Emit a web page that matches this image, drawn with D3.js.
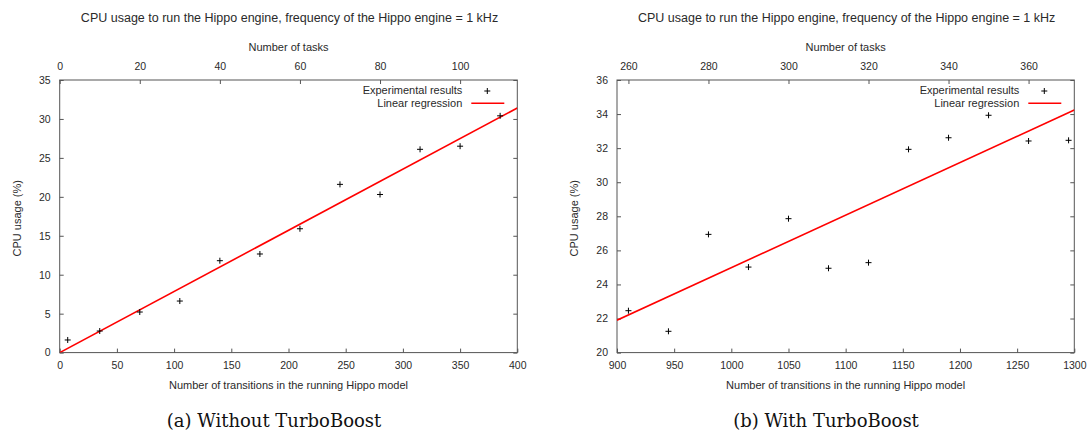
<!DOCTYPE html>
<html>
<head>
<meta charset="utf-8">
<script src="https://cdn.jsdelivr.net/npm/d3@7"></script>
<style>
body { margin: 0; background: #fff; }
svg { display: block; }
</style>
</head>
<body>
<div id="grafica"></div>
<script>
// datos
var transA = [7, 35, 70, 105, 140, 175, 210, 245, 280, 315, 350, 385];
var cpuA = [1.62, 2.77, 5.21, 6.62, 11.8, 12.66, 15.9, 21.6, 20.3, 26.1, 26.5, 30.4];
var regXA = [0, 400];
var regYA = [0, 31.4];

var transB = [910, 945, 980, 1015, 1050, 1085, 1120, 1155, 1190, 1225, 1260, 1295];
var cpuB = [22.46, 21.25, 26.94, 25.02, 27.86, 24.95, 25.28, 31.93, 32.61, 33.93, 32.42, 32.46];
var regXB = [900, 1300];
var regYB = [21.9, 34.24];

var xTicksA = [0, 50, 100, 150, 200, 250, 300, 350, 400];
var yTicksA = [0, 5, 10, 15, 20, 25, 30, 35];
var taskTicksA = [0, 20, 40, 60, 80, 100];
var xTicksB = [900, 950, 1000, 1050, 1100, 1150, 1200, 1250, 1300];
var yTicksB = [20, 22, 24, 26, 28, 30, 32, 34, 36];
var taskTicksB = [260, 280, 300, 320, 340, 360];

var transPorTarea = 3.5;
var titulo = "CPU usage to run the Hippo engine, frequency of the Hippo engine = 1 kHz";
var captions = ["(a) Without TurboBoost", "(b) With TurboBoost"];

var svg = d3.select("#grafica")
	.append("svg")
	.attr("width", 1089)
	.attr("height", 434);

svg.append("rect").attr("width", 1089).attr("height", 434).attr("fill", "#fff");

var sans = "'Liberation Sans', Arial, sans-serif";
var texto = "#2a2a2a";
var borde = "#555";
var fmt = d3.format("d");

function panel(p) {
	var x = d3.scaleLinear().domain(p.xDom).range([p.left, p.right]);
	var x2 = d3.scaleLinear().domain([p.xDom[0] / transPorTarea, p.xDom[1] / transPorTarea]).range([p.left, p.right]);
	var y = d3.scaleLinear().domain(p.yDom).range([p.bottom, p.top]);
	var g = svg.append("g");

	// ejes
	var ab = g.append("g").attr("transform", "translate(0," + p.bottom + ")")
		.call(d3.axisBottom(x).tickValues(p.xTicks).tickFormat(fmt).tickSizeInner(-4).tickSizeOuter(0).tickPadding(9));
	var at = g.append("g").attr("transform", "translate(0," + p.top + ")")
		.call(d3.axisTop(x2).tickValues(p.taskTicks).tickFormat(fmt).tickSizeInner(-4).tickSizeOuter(0).tickPadding(10));
	var al = g.append("g").attr("transform", "translate(" + p.left + ",0)")
		.call(d3.axisLeft(y).tickValues(p.yTicks).tickFormat(fmt).tickSizeInner(-4).tickSizeOuter(0).tickPadding(9));
	var ar = g.append("g").attr("transform", "translate(" + p.right + ",0)")
		.call(d3.axisRight(y).tickValues(p.yTicks).tickSizeInner(-4).tickSizeOuter(0).tickFormat(""));
	[ab, at, al, ar].forEach(function (a) {
		a.select(".domain").remove();
		a.selectAll("line").attr("stroke", borde);
		a.selectAll("text").attr("fill", texto).attr("font-family", sans).attr("font-size", "10.5px");
	});

	g.append("rect")
		.attr("x", p.left).attr("y", p.top)
		.attr("width", p.right - p.left).attr("height", p.bottom - p.top)
		.attr("fill", "none").attr("stroke", borde).attr("stroke-width", 1);

	var clipId = "clip" + p.id;
	g.append("clipPath").attr("id", clipId).append("rect")
		.attr("x", p.left).attr("y", p.top)
		.attr("width", p.right - p.left).attr("height", p.bottom - p.top);

	// recta de regresion
	var linea = d3.line().x(function (d) { return x(d[0]); }).y(function (d) { return y(d[1]); });
	g.append("path")
		.datum(d3.zip(p.regX, p.regY))
		.attr("clip-path", "url(#" + clipId + ")")
		.attr("d", linea)
		.attr("fill", "none").attr("stroke", "#f00").attr("stroke-width", 1.6);

	// puntos
	g.selectAll(".cruz").data(d3.zip(p.xs, p.ys)).enter().append("path")
		.attr("class", "cruz")
		.attr("transform", function (d) { return "translate(" + x(d[0]) + "," + y(d[1]) + ")"; })
		.attr("d", "M-3,0H3M0,-3V3")
		.attr("stroke", "#000").attr("stroke-width", 1);

	// leyenda
	g.append("text")
		.attr("x", p.right - 55).attr("y", p.top + 14)
		.attr("text-anchor", "end").attr("font-family", sans).attr("font-size", "11px").attr("fill", texto)
		.text("Experimental results");
	g.append("path")
		.attr("transform", "translate(" + (p.right - 30) + "," + (p.top + 11) + ")")
		.attr("d", "M-3,0H3M0,-3V3")
		.attr("stroke", "#000").attr("stroke-width", 1);
	g.append("text")
		.attr("x", p.right - 55).attr("y", p.top + 27)
		.attr("text-anchor", "end").attr("font-family", sans).attr("font-size", "11px").attr("fill", texto)
		.text("Linear regression");
	g.append("line")
		.attr("x1", p.right - 46).attr("x2", p.right - 13)
		.attr("y1", p.top + 23.3).attr("y2", p.top + 23.3)
		.attr("stroke", "#f00").attr("stroke-width", 1.6);

	var cx = (p.left + p.right) / 2;
	g.append("text")
		.attr("x", cx + 1).attr("y", 21.5)
		.attr("text-anchor", "middle").attr("font-family", sans).attr("font-size", "12.5px").attr("fill", texto)
		.text(titulo);
	g.append("text")
		.attr("x", cx).attr("y", 50.5)
		.attr("text-anchor", "middle").attr("font-family", sans).attr("font-size", "11px").attr("fill", texto)
		.text("Number of tasks");
	g.append("text")
		.attr("x", cx).attr("y", 389)
		.attr("text-anchor", "middle").attr("font-family", sans).attr("font-size", "11px").attr("fill", texto)
		.text("Number of transitions in the running Hippo model");
	g.append("text")
		.attr("transform", "translate(" + (p.left - 39) + "," + ((p.top + p.bottom) / 2 + 2) + ") rotate(-90)")
		.attr("text-anchor", "middle").attr("font-family", sans).attr("font-size", "11px").attr("fill", texto)
		.text("CPU usage (%)");

	g.append("text")
		.attr("x", p.capX).attr("y", 427)
		.attr("text-anchor", "middle").attr("font-family", "'DejaVu Serif', serif").attr("font-size", "18px").attr("fill", "#111")
		.text(p.caption);
}

panel({ id: "a", left: 59.7, right: 517.3, top: 80, bottom: 352.6,
	xDom: [0, 400], yDom: [0, 35], xTicks: xTicksA, yTicks: yTicksA, taskTicks: taskTicksA,
	xs: transA, ys: cpuA, regX: regXA, regY: regYA, capX: 274, caption: captions[0] });

panel({ id: "b", left: 617, right: 1074.3, top: 80, bottom: 352.6,
	xDom: [900, 1300], yDom: [20, 36], xTicks: xTicksB, yTicks: yTicksB, taskTicks: taskTicksB,
	xs: transB, ys: cpuB, regX: regXB, regY: regYB, capX: 826, caption: captions[1] });
</script>
</body>
</html>
